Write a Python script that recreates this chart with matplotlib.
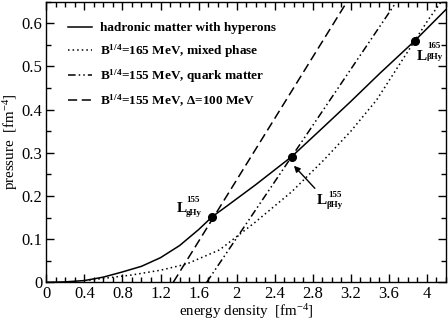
import numpy as np
import matplotlib
matplotlib.use("Agg")
import matplotlib.pyplot as plt
from matplotlib.ticker import MultipleLocator, FuncFormatter

plt.rcParams['font.family'] = ['Liberation Serif', 'DejaVu Serif']
plt.rcParams['mathtext.fontset'] = 'custom'
plt.rcParams['mathtext.rm'] = 'Liberation Serif'
plt.rcParams['mathtext.bf'] = 'Liberation Serif:bold'
plt.rcParams['mathtext.it'] = 'Liberation Serif:italic'

# hadronic matter with hyperons (solid)
hadron_e = [0, 0.2, 0.4, 0.6, 0.8, 1.0, 1.2, 1.4, 1.6, 1.744, 1.9, 2.2, 2.578, 2.9, 3.2, 3.5, 3.87, 4.2]
hadron_p = [0, 0.001, 0.004, 0.012, 0.024, 0.037, 0.057, 0.085, 0.122, 0.152, 0.177, 0.226, 0.291,
            0.357, 0.419, 0.483, 0.559, 0.632]

# B^1/4 = 165 MeV, mixed phase (dotted)
mixed_e = [0.45, 0.9, 1.2, 1.47, 1.82, 2.2, 2.58, 2.915, 3.2, 3.47, 3.87, 4.01, 4.15]
mixed_p = [0.005, 0.017, 0.028, 0.042, 0.075, 0.14, 0.21, 0.283, 0.35, 0.422, 0.559, 0.607, 0.65]

# B^1/4 = 155 MeV, quark matter (dash-dot-dot)
quark_e = [1.685, 3.68]
quark_p = [0.0, 0.65]

# B^1/4 = 155 MeV, Delta = 100 MeV (dashed)
delta_e = [1.334, 3.16]
delta_p = [0.0, 0.65]

# marked points
pt_e = [1.744, 2.578, 3.87]
pt_p = [0.152, 0.291, 0.559]

fig = plt.figure(figsize=(4.48, 3.21), dpi=100)
ax = fig.add_axes([0.1034, 0.1206, 0.8921, 0.8741])

lw = 1.1
ax.plot(hadron_e, hadron_p, color='black', lw=lw, label='hadronic matter with hyperons')
ax.plot(mixed_e, mixed_p, color='black', lw=lw, linestyle=(0, (1, 2)),
        label=r'B$^{\mathbf{1/4}}$=165 MeV, mixed phase')
ax.plot(quark_e, quark_p, color='black', lw=lw, linestyle=(0, (5, 2, 1, 2, 1, 2)),
        label=r'B$^{\mathbf{1/4}}$=155 MeV, quark matter')
ax.plot(delta_e, delta_p, color='black', lw=lw, linestyle=(0, (6, 3)),
        label=r'B$^{\mathbf{1/4}}$=155 MeV, Δ=100 MeV')
ax.plot(pt_e, pt_p, 'o', color='black', ms=5.5, zorder=5)

ax.set_xlim(0, 4.2)
ax.set_ylim(0, 0.65)

ax.xaxis.set_major_locator(MultipleLocator(0.4))
ax.xaxis.set_minor_locator(MultipleLocator(0.1))
ax.yaxis.set_major_locator(MultipleLocator(0.1))
ax.yaxis.set_minor_locator(MultipleLocator(0.05))
fmt = FuncFormatter(lambda v, p: '%g' % round(v, 2))
ax.xaxis.set_major_formatter(fmt)
ax.yaxis.set_major_formatter(fmt)
ax.tick_params(which='both', direction='in', top=True, right=True, labelsize=12, width=1)
ax.tick_params(which='major', length=6, pad=3)
ax.tick_params(which='minor', length=3.5)
for s in ax.spines.values():
    s.set_linewidth(1.0)

ax.set_xlabel(r'energy density  [fm$^{-4}$]', fontsize=10.8, labelpad=0)
ax.set_ylabel(r'pressure  [fm$^{-4}$]', fontsize=10.8, labelpad=1)

leg = ax.legend(loc='upper left', bbox_to_anchor=(0.054, 0.927), frameon=False,
                borderpad=0, borderaxespad=0, handlelength=1.85, handletextpad=0.6,
                labelspacing=0.58, prop={'weight': 'bold', 'size': 9.5})

# point labels
big = dict(fontsize=11, fontweight='bold', va='baseline', ha='left')
small = dict(fontsize=6.5, fontweight='bold', va='baseline', ha='left')
ax.text(1.376, 0.1635, 'L', **big)
ax.text(1.475, 0.1867, '155', **small)
ax.text(1.462, 0.157, 'gHy', **small)

ax.text(2.840, 0.1807, 'L', **big)
ax.text(2.959, 0.198, '155', **small)
ax.text(2.949, 0.174, 'βHy', **small)

ax.text(3.897, 0.515, 'L', **big)
ax.text(3.999, 0.542, '165', **small)
ax.text(3.999, 0.518, 'βHy', clip_on=True, **small)

ax.annotate('', xy=(2.602, 0.270), xytext=(2.822, 0.2177),
            arrowprops=dict(arrowstyle='-|>', color='black', lw=1.0,
                            mutation_scale=9, shrinkA=0, shrinkB=0))

fig.savefig('out.png', dpi=100)
